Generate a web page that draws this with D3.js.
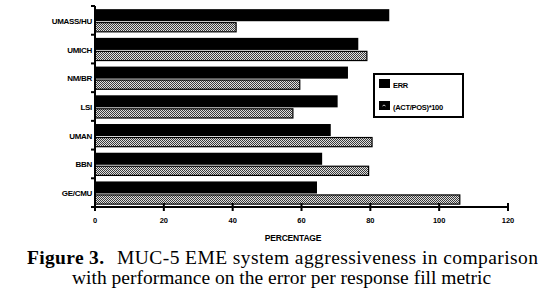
<!DOCTYPE html>
<html>
<head>
<meta charset="utf-8">
<script src="https://cdnjs.cloudflare.com/ajax/libs/d3/7.8.5/d3.min.js"></script>
<style>
body{margin:0;background:#fff;}
svg{display:block;}
</style>
</head>
<body>
<script>
// data
var systems = ["UMASS/HU","UMICH","NM/BR","LSI","UMAN","BBN","GE/CMU"];
var errValues = [85.5,76.5,73.5,70.5,68.5,66,64.5];
var actPosValues = [41,79,59.5,57.5,80.5,79.5,106];
var xTicks = [0,20,40,60,80,100,120];
var seriesNames = ["ERR","(ACT/POS)*100"];

var W=538,H=298;
var x0=95, x1=508, yTop=6, yBot=207;

var svg = d3.select("body").append("svg").attr("width",W).attr("height",H);

// checker pattern for the second series
var defs = svg.append("defs");
var pat = defs.append("pattern").attr("id","chk")
    .attr("width",2).attr("height",2).attr("patternUnits","userSpaceOnUse");
pat.append("rect").attr("width",2).attr("height",2).attr("fill","#e0e0e0");
pat.append("rect").attr("width",1).attr("height",1).attr("fill","#3a3a3a");
pat.append("rect").attr("x",1).attr("y",1).attr("width",1).attr("height",1).attr("fill","#3a3a3a");

var x = d3.scaleLinear().domain([0,120]).range([x0,x1]);
var y = d3.scaleBand().domain(systems).range([yTop,yBot]);
var bw = y.bandwidth();

var g = svg.append("g");

// ERR bars
g.selectAll("rect.err").data(systems).enter().append("rect")
    .attr("class","err")
    .attr("x",x(0))
    .attr("y",function(d){return y(d)+bw*0.11})
    .attr("width",function(d,i){return x(errValues[i])-x(0)})
    .attr("height",bw*0.42)
    .attr("fill","#000");

// ACT/POS bars
g.selectAll("rect.ap").data(systems).enter().append("rect")
    .attr("class","ap")
    .attr("x",x(0))
    .attr("y",function(d){return y(d)+bw*0.58})
    .attr("width",function(d,i){return x(actPosValues[i])-x(0)})
    .attr("height",bw*0.32)
    .attr("fill","url(#chk)")
    .attr("stroke","#000").attr("stroke-width",1.2);

// y axis line and separator ticks
svg.append("line").attr("x1",x0).attr("x2",x0).attr("y1",yTop).attr("y2",yBot)
    .attr("stroke","#000").attr("stroke-width",2);
var bounds = systems.map(function(d){return y(d)}).concat([yBot]);
svg.selectAll("line.yt").data(bounds).enter().append("line")
    .attr("x1",x0-4).attr("x2",x0).attr("y1",function(d){return d}).attr("y2",function(d){return d})
    .attr("stroke","#000").attr("stroke-width",2);

// category labels
svg.selectAll("text.cat").data(systems).enter().append("text")
    .attr("x",x0-3)
    .attr("y",function(d){return y(d)+bw/2+3.5})
    .attr("text-anchor","end")
    .attr("font-family","Liberation Sans, Arial, sans-serif")
    .attr("font-weight","bold")
    .attr("font-size",8)
    .attr("letter-spacing",-0.3)
    .text(function(d){return d});

// x axis
svg.append("line").attr("x1",x0).attr("x2",x1).attr("y1",yBot).attr("y2",yBot)
    .attr("stroke","#000").attr("stroke-width",2);
svg.selectAll("line.xt").data(xTicks).enter().append("line")
    .attr("x1",function(d){return x(d)}).attr("x2",function(d){return x(d)})
    .attr("y1",yBot-4).attr("y2",yBot+4)
    .attr("stroke","#000").attr("stroke-width",2);
svg.selectAll("text.xl").data(xTicks).enter().append("text")
    .attr("x",function(d){return x(d)})
    .attr("y",yBot+16)
    .attr("text-anchor","middle")
    .attr("font-family","Liberation Sans, Arial, sans-serif")
    .attr("font-weight","bold")
    .attr("font-size",7.5)
    .text(function(d){return d});

svg.append("text").attr("x",293).attr("y",241)
    .attr("text-anchor","middle")
    .attr("font-family","Liberation Sans, Arial, sans-serif")
    .attr("font-weight","bold")
    .attr("font-size",8.5)
    .attr("letter-spacing",-0.2)
    .text("PERCENTAGE");

// legend
var lg = svg.append("g");
lg.append("rect").attr("x",374).attr("y",74).attr("width",89).attr("height",43)
    .attr("fill","#fff").attr("stroke","#000").attr("stroke-width",2);
lg.append("rect").attr("x",379).attr("y",79).attr("width",11).attr("height",9).attr("fill","#000");
lg.append("rect").attr("x",379).attr("y",101).attr("width",11).attr("height",9).attr("fill","#000");
lg.append("path").attr("d","M382.5,106 q1.5,-2 3,0").attr("stroke","#ccc").attr("fill","none");
lg.selectAll("text").data(seriesNames).enter().append("text")
    .attr("x",393)
    .attr("y",function(d,i){return 88+i*22})
    .attr("font-family","Liberation Sans, Arial, sans-serif")
    .attr("font-weight","bold")
    .attr("font-size",7.5)
    .attr("letter-spacing",-0.3)
    .text(function(d){return d});

// caption
var capFont = "Liberation Serif, Times New Roman, serif";
svg.append("text").attr("x",27).attr("y",264)
    .attr("font-family",capFont).attr("font-size",19.5).attr("font-weight","bold")
    .attr("textLength",77).attr("lengthAdjust","spacing")
    .text("Figure 3.");
svg.append("text").attr("x",117).attr("y",264)
    .attr("font-family",capFont).attr("font-size",19.5)
    .attr("textLength",421).attr("lengthAdjust","spacing")
    .text("MUC-5 EME system aggressiveness in comparison");
svg.append("text").attr("x",72).attr("y",284)
    .attr("font-family",capFont).attr("font-size",19.5)
    .text("with performance on the error per response fill metric");
</script>
</body>
</html>
